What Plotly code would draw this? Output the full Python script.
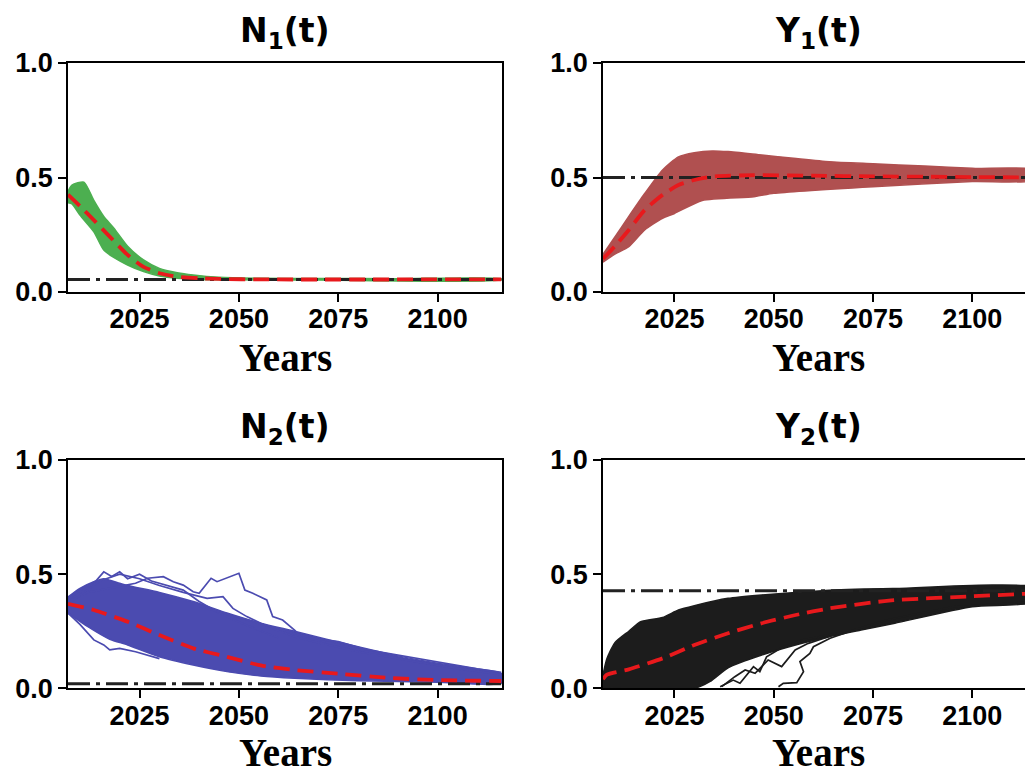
import plotly.graph_objects as go

# ---------------- data ----------------
# N1(t) panel (green)
N1_upper_years = [2007, 2008, 2011, 2013.5, 2016, 2018.5, 2022, 2026, 2030, 2034.5, 2038.5, 2045, 2055, 2070, 2090, 2116]
N1_upper = [0.44, 0.467, 0.48, 0.40, 0.33, 0.28, 0.20, 0.14, 0.103, 0.084, 0.074, 0.064, 0.060, 0.059, 0.058, 0.058]
N1_lower_years = [2007, 2008, 2010, 2013.5, 2016, 2018.5, 2022, 2026, 2030, 2034.5, 2040, 2050, 2070, 2116]
N1_lower = [0.39, 0.385, 0.336, 0.263, 0.183, 0.151, 0.118, 0.089, 0.07, 0.06, 0.055, 0.053, 0.052, 0.052]
N1_mean_years = [2007, 2010, 2013.5, 2017.5, 2022, 2026, 2030, 2034.5, 2040, 2045, 2055, 2116]
N1_mean = [0.425, 0.375, 0.314, 0.242, 0.162, 0.11, 0.082, 0.067, 0.06, 0.057, 0.055, 0.055]
N1_eq = 0.055

# Y1(t) panel (brownish red)
Y1_upper_years = [2007, 2010, 2013.5, 2017.5, 2022, 2026, 2030, 2034.5, 2038.5, 2047, 2055, 2064, 2075, 2088, 2100, 2116]
Y1_upper = [0.165, 0.24, 0.33, 0.43, 0.533, 0.59, 0.608, 0.616, 0.613, 0.598, 0.584, 0.569, 0.56, 0.55, 0.54, 0.533]
Y1_lower_years = [2007, 2010, 2013.5, 2017.5, 2022, 2025, 2032, 2045, 2050, 2075, 2100, 2116]
Y1_lower = [0.13, 0.165, 0.198, 0.271, 0.322, 0.343, 0.40, 0.416, 0.431, 0.46, 0.482, 0.489]
Y1_mean_years = [2007, 2010, 2013.5, 2017.5, 2022, 2026, 2030, 2034.5, 2045, 2060, 2075, 2100, 2116]
Y1_mean = [0.145, 0.2, 0.271, 0.358, 0.424, 0.467, 0.489, 0.504, 0.51, 0.508, 0.505, 0.502, 0.5]
Y1_eq = 0.5

# N2(t) panel (blue)
N2_upper_years = [2007, 2010, 2013.5, 2016, 2020, 2022, 2030, 2038.5, 2047, 2055.5, 2064, 2072, 2080.5, 2090, 2100, 2110, 2116]
N2_upper = [0.40, 0.438, 0.467, 0.48, 0.46, 0.45, 0.42, 0.38, 0.33, 0.285, 0.25, 0.215, 0.18, 0.142, 0.11, 0.085, 0.066]
N2_lower_years = [2007, 2012, 2017.5, 2022, 2030, 2038.5, 2047, 2055.5, 2064, 2080, 2100, 2116]
N2_lower = [0.33, 0.27, 0.215, 0.19, 0.138, 0.102, 0.073, 0.054, 0.044, 0.033, 0.027, 0.022]
N2_out1_years = [2007, 2012, 2018, 2024, 2027, 2031, 2033.5, 2036, 2038.5, 2040, 2043, 2044.5, 2050, 2051.5, 2053.5, 2057, 2058.5, 2061, 2064, 2066, 2069.5, 2075, 2085, 2095, 2105, 2116]
N2_out1 = [0.38, 0.42, 0.44, 0.46, 0.482, 0.489, 0.467, 0.452, 0.423, 0.416, 0.482, 0.467, 0.504, 0.43, 0.416, 0.387, 0.314, 0.299, 0.255, 0.219, 0.212, 0.19, 0.15, 0.115, 0.085, 0.06]
N2_out2_years = [2007, 2015, 2020, 2025, 2030, 2036, 2042, 2046, 2048.5, 2052, 2055.5, 2059.5, 2064, 2070, 2080, 2090, 2100, 2116]
N2_out2 = [0.37, 0.47, 0.50, 0.48, 0.45, 0.42, 0.394, 0.401, 0.35, 0.314, 0.285, 0.255, 0.226, 0.2, 0.16, 0.13, 0.1, 0.06]
N2_out3_years = [2007, 2011, 2014, 2016, 2018, 2020, 2022, 2025, 2028, 2032, 2036, 2040, 2045, 2050, 2060]
N2_out3 = [0.39, 0.44, 0.47, 0.51, 0.49, 0.51, 0.48, 0.50, 0.47, 0.45, 0.43, 0.38, 0.33, 0.29, 0.22]
N2_out4_years = [2007, 2010, 2013.5, 2016, 2017.5, 2020, 2024, 2030]
N2_out4 = [0.33, 0.28, 0.212, 0.19, 0.168, 0.175, 0.16, 0.13]
N2_out5_years = [2040, 2046, 2052, 2058, 2064, 2070, 2075, 2082, 2090, 2100, 2110, 2116]
N2_out5 = [0.36, 0.33, 0.3, 0.27, 0.24, 0.215, 0.205, 0.17, 0.145, 0.115, 0.085, 0.07]
N2_mean_years = [2007, 2013.5, 2022, 2030, 2038.5, 2047, 2055.5, 2064, 2075, 2088, 2100, 2116]
N2_mean = [0.37, 0.343, 0.292, 0.233, 0.175, 0.138, 0.1, 0.08, 0.064, 0.045, 0.036, 0.032]
N2_eq = 0.02

# Y2(t) panel (black)
Y2_upper_years = [2007, 2008, 2010, 2013.5, 2016.5, 2022, 2026, 2030, 2038.5, 2047, 2055.5, 2064, 2080, 2116]
Y2_upper = [0.06, 0.13, 0.2, 0.25, 0.292, 0.31, 0.343, 0.362, 0.394, 0.409, 0.42, 0.43, 0.437, 0.44]
Y2_lower_years = [2007, 2030, 2034, 2038.5, 2047, 2055.5, 2064, 2072, 2080.5, 2100, 2116]
Y2_lower = [0.0, 0.0, 0.03, 0.09, 0.146, 0.19, 0.226, 0.255, 0.285, 0.357, 0.379]
Y2_out1_years = [2051.2, 2052.4, 2055.8, 2057.5, 2056.6, 2059.1, 2060, 2064.2, 2070, 2078.5, 2086.8, 2095.2, 2116]
Y2_out1 = [0.007, 0.022, 0.025, 0.073, 0.117, 0.153, 0.182, 0.219, 0.255, 0.299, 0.328, 0.357, 0.379]
Y2_out2_years = [2036.5, 2039.8, 2041.5, 2044.9, 2046.5, 2048.2, 2052.4, 2057.5, 2065.9]
Y2_out2 = [0.007, 0.036, 0.022, 0.095, 0.073, 0.138, 0.182, 0.212, 0.241]
Y2_out3_years = [2036.9, 2040.2, 2042.8, 2045.3, 2048.6, 2052, 2055.4, 2058.7, 2063.8]
Y2_out3 = [0.007, 0.051, 0.08, 0.066, 0.124, 0.095, 0.168, 0.197, 0.226]
Y2_mean_years = [2007, 2008, 2013.5, 2022, 2030, 2038.5, 2047, 2055.5, 2064, 2079, 2100, 2116]
Y2_mean = [0.04, 0.06, 0.083, 0.131, 0.19, 0.241, 0.285, 0.321, 0.35, 0.384, 0.403, 0.416]
Y2_eq = 0.427

titles = ["N<sub>1</sub>(t)", "Y<sub>1</sub>(t)", "N<sub>2</sub>(t)", "Y<sub>2</sub>(t)"]
x_ticks = [2025, 2050, 2075, 2100]
y_ticks = [0.0, 0.5, 1.0]
y_tick_text = ["0.0", "0.5", "1.0"]
x_label = "Years"

# ---------------- figure ----------------
OFF = 8                      # page body margin
W, H = 1033 - OFF, 774 - OFF


def fx(px):
    return (px - OFF) / W


def fy(py):
    return 1 - (py - OFF) / H


fig = go.Figure()

panels = [
    dict(ax="", color="#4caf50", up=(N1_upper_years, N1_upper), lo=(N1_lower_years, N1_lower),
         outs=[], mean=(N1_mean_years, N1_mean), eq=N1_eq),
    dict(ax="2", color="#b05050", up=(Y1_upper_years, Y1_upper), lo=(Y1_lower_years, Y1_lower),
         outs=[], mean=(Y1_mean_years, Y1_mean), eq=Y1_eq),
    dict(ax="3", color="#4b4bb0", up=(N2_upper_years, N2_upper), lo=(N2_lower_years, N2_lower),
         outs=[(N2_out1_years, N2_out1), (N2_out2_years, N2_out2), (N2_out3_years, N2_out3),
               (N2_out4_years, N2_out4), (N2_out5_years, N2_out5)],
         mean=(N2_mean_years, N2_mean), eq=N2_eq),
    dict(ax="4", color="#1c1c1c", up=(Y2_upper_years, Y2_upper), lo=(Y2_lower_years, Y2_lower),
         outs=[(Y2_out1_years, Y2_out1), (Y2_out2_years, Y2_out2), (Y2_out3_years, Y2_out3)],
         mean=(Y2_mean_years, Y2_mean), eq=Y2_eq),
]

for p in panels:
    xa, ya = "x" + p["ax"], "y" + p["ax"]
    ux, uy = p["up"]
    lx, ly = p["lo"]
    fig.add_trace(go.Scatter(x=list(ux) + list(lx)[::-1], y=list(uy) + list(ly)[::-1],
                             fill="toself", fillcolor=p["color"], mode="lines",
                             line=dict(color=p["color"], width=1.5, shape="spline", smoothing=0.6),
                             xaxis=xa, yaxis=ya, showlegend=False, hoverinfo="skip"))
    for ox, oy in p["outs"]:
        fig.add_trace(go.Scatter(x=ox, y=oy, mode="lines", line=dict(color=p["color"], width=1.7),
                                 xaxis=xa, yaxis=ya, showlegend=False, hoverinfo="skip"))
    mx, my = p["mean"]
    fig.add_trace(go.Scatter(x=[mx[0], mx[-1]], y=[p["eq"], p["eq"]], mode="lines",
                             line=dict(color="#222222", width=3, dash="22px,6px,4px,6px"),
                             xaxis=xa, yaxis=ya, showlegend=False, hoverinfo="skip"))
    fig.add_trace(go.Scatter(x=mx, y=my, mode="lines",
                             line=dict(color="#e8191c", width=3.8, dash="16px,8px", shape="spline", smoothing=0.6),
                             xaxis=xa, yaxis=ya, showlegend=False, hoverinfo="skip"))

xl = [fx(68), fx(502)]
xr = [fx(603), 1.0]
yt = [fy(292), fy(63)]
yb = [fy(688.3), fy(460)]

tickfont = dict(family="Liberation Sans, Arial, sans-serif", size=27, color="black", weight="bold")
common_x = dict(tickmode="array", tickvals=x_ticks, ticks="outside", ticklen=8, tickwidth=1.6,
                tickcolor="black", showline=True, linecolor="black", linewidth=1.6,
                showgrid=False, zeroline=False, tickfont=tickfont, automargin=False,
                ticklabelstandoff=-6)
common_y = dict(tickmode="array", tickvals=y_ticks, ticktext=y_tick_text, ticks="outside", ticklen=8,
                tickwidth=1.6, tickcolor="black", showline=True, linecolor="black", linewidth=1.6,
                showgrid=False, zeroline=False, tickfont=tickfont, range=[0, 1], ticklabelstandoff=0,
                automargin=False)

fig.update_layout(
    template="none",
    width=W, height=H, margin=dict(l=0, r=0, t=0, b=0, pad=0), autosize=False,
    paper_bgcolor="white", plot_bgcolor="white", showlegend=False,
    xaxis=dict(domain=xl, anchor="y", range=[2007, 2116.2], mirror=True, **common_x),
    yaxis=dict(domain=yt, anchor="x", mirror=True, **common_y),
    xaxis2=dict(domain=xr, anchor="y2", range=[2007, 2115.3], mirror=True, **common_x),
    yaxis2=dict(domain=yt, anchor="x2", mirror=False, **common_y),
    xaxis3=dict(domain=xl, anchor="y3", range=[2007, 2116.2], mirror=True, **common_x),
    yaxis3=dict(domain=yb, anchor="x3", mirror=True, **common_y),
    xaxis4=dict(domain=xr, anchor="y4", range=[2007, 2115.3], mirror=True, **common_x),
    yaxis4=dict(domain=yb, anchor="x4", mirror=False, **common_y),
)

title_font = dict(family="DejaVu Sans, Liberation Sans, sans-serif", size=33, color="black", weight="bold")
label_font = dict(family="Liberation Serif, Times New Roman, serif", size=39, color="black", weight="bold")
title_pos = [(285, 33), (818, 33), (285, 428), (818, 428)]
label_pos = [(285, 357), (818, 357), (285, 752), (818, 752)]
for t, (tx, ty), (lx_, ly_) in zip(titles, title_pos, label_pos):
    fig.add_annotation(text="<b>" + t + "</b>", x=fx(tx), y=fy(ty), xref="paper", yref="paper",
                       xanchor="center", yanchor="middle", showarrow=False, font=title_font)
    fig.add_annotation(text=x_label, x=fx(lx_), y=fy(ly_), xref="paper", yref="paper",
                       xanchor="center", yanchor="middle", showarrow=False, font=label_font)

fig.write_html("out.html")
